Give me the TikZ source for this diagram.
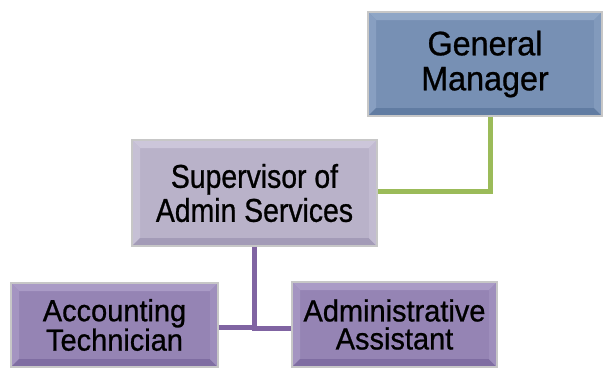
\documentclass[tikz,border=0pt]{standalone}
\usepackage{fontspec}
\newfontfamily\boxfont{Liberation Sans}[FakeStretch=0.95,FakeBold=0.8]
\newfontfamily\narrowboxfont{Liberation Sans}[FakeStretch=0.86,FakeBold=0.8]
\definecolor{gmface}{HTML}{7790B4}
\definecolor{gmlight}{HTML}{8FA6C6}
\definecolor{gmdark}{HTML}{617CA2}
\definecolor{supface}{HTML}{B9B2C9}
\definecolor{suplight}{HTML}{CCC6DA}
\definecolor{supdark}{HTML}{A39BB7}
\definecolor{stfface}{HTML}{9584B4}
\definecolor{stflight}{HTML}{AA9BC6}
\definecolor{stfdark}{HTML}{7F6DA2}
\definecolor{linkgreen}{HTML}{9BBB59}
\definecolor{linkpurple}{HTML}{8064A2}
\tikzset{
  bevelbox/.style n args={3}{
    rectangle, fill=#1, draw=black!22, line width=1.2pt, inner sep=0pt,
    align=center, text=black,
    path picture={
      \coordinate (nw) at (path picture bounding box.north west);
      \coordinate (se) at (path picture bounding box.south east);
      \coordinate (ne) at (path picture bounding box.north east);
      \coordinate (sw) at (path picture bounding box.south west);
      \coordinate (inw) at ([xshift=8pt,yshift=-8pt]nw);
      \coordinate (ine) at ([xshift=-8pt,yshift=-8pt]ne);
      \coordinate (ise) at ([xshift=-8pt,yshift=8pt]se);
      \coordinate (isw) at ([xshift=8pt,yshift=8pt]sw);
      \fill[#2] (nw) -- (ne) -- (ine) -- (inw) -- cycle;
      \fill[#2!70!#1] (nw) -- (inw) -- (isw) -- (sw) -- cycle;
      \fill[#3] (sw) -- (isw) -- (ise) -- (se) -- cycle;
      \fill[#2!45!#1] (se) -- (ise) -- (ine) -- (ne) -- cycle;
    }
  },
  gmbox/.style={bevelbox={gmface}{gmlight}{gmdark},
    font=\boxfont\fontsize{34}{35}\selectfont},
  supbox/.style={bevelbox={supface}{suplight}{supdark},
    font=\narrowboxfont\fontsize{33}{34}\selectfont},
  staffbox/.style={bevelbox={stfface}{stflight}{stfdark},
    font=\boxfont\fontsize{30.5}{28}\selectfont},
  greenlink/.style={draw=linkgreen, line width=5pt, line join=miter},
  purplelink/.style={draw=linkpurple, line width=5pt, line join=miter}
}
\begin{document}
\begin{tikzpicture}[x=1pt,y=-1pt]
  \useasboundingbox (0,0) rectangle (604,368);

  \coordinate (gmc) at (485,64);
  \coordinate (supc) at (254.5,193);
  \coordinate (accc) at (114.5,325);
  \coordinate (admc) at (394.5,324.5);

  \node[gmbox, minimum width=234pt, minimum height=104pt] (gm) at (gmc) {General\\Manager};
  \node[supbox, minimum width=245pt, minimum height=106pt] (sup) at (supc) {Supervisor of\\Admin Services};
  \node[staffbox, minimum width=207pt, minimum height=84pt] (acc) at (accc) {Accounting\\Technician};
  \node[staffbox, minimum width=205pt, minimum height=85pt] (adm) at (admc) {Administrative\\Assistant};

  % reporting lines
  \draw[greenlink] ([xshift=5pt]gm.south) |- ([yshift=2pt]sup.east);
  \draw[purplelink] ([yshift=-2pt]acc.east) -| (sup.south);
  \draw[purplelink] (sup.south) |- ([yshift=-4pt]adm.west);
\end{tikzpicture}
\end{document}
